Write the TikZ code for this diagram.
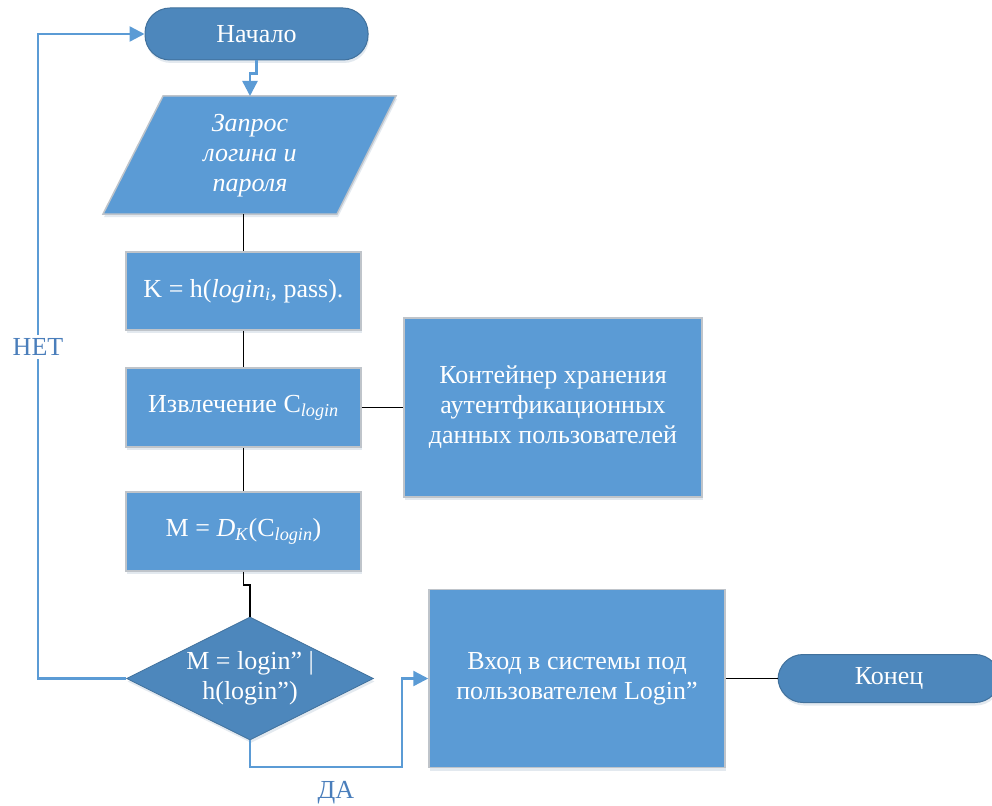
\documentclass[tikz,border=0pt]{standalone}
\usepackage{fontspec}
\setmainfont{Liberation Serif}
\usetikzlibrary{arrows.meta,shapes.geometric,shadows}
\definecolor{boxfill}{HTML}{5B9BD5}
\definecolor{boxline}{HTML}{BFC4CA}
\definecolor{termfill}{HTML}{4D87BC}
\definecolor{termline}{HTML}{41719C}
\definecolor{flowblue}{HTML}{5B9BD5}
\definecolor{labelblue}{HTML}{4A7EBB}
\tikzset{
  x=1pt, y=-1pt,
  every node/.style={font=\fontsize{26}{30}\selectfont, text=white, align=center},
  softshadow/.style={drop shadow={shadow xshift=1pt, shadow yshift=-3pt, opacity=0.15, fill=flowblue!70!black}},
  procbox/.style={rectangle, fill=boxfill, draw=boxline, line width=1.5pt, inner sep=0pt, softshadow},
  terminal/.style={rectangle, rounded corners=25pt, fill=termfill, draw=termline, line width=1pt, inner sep=0pt, softshadow},
  decision/.style={diamond, fill=termfill, draw=termline, line width=0.8pt, inner sep=0pt, softshadow},
  plainline/.style={draw=black, line width=1.8pt},
  flowline/.style={draw=flowblue, line width=2.4pt},
  flowarrow/.style={flowline, -{Triangle[length=15pt,width=15pt]}},
  branchlabel/.style={text=labelblue, fill=white, inner sep=3pt},
}
\begin{document}
\begin{tikzpicture}
\useasboundingbox (0,0) rectangle (992,805);
\clip (0,0) rectangle (992,805);

% start / end terminals
\node[terminal, minimum width=223pt, minimum height=52pt] (start) at (256.5,34) {Начало};
\node[terminal, minimum width=222pt, minimum height=48pt] (finish) at (889,678.5) {Конец};

% input parallelogram
\coordinate (inTL) at (163,96);
\coordinate (inTR) at (396,96);
\coordinate (inBR) at (337,214);
\coordinate (inBL) at (103,214);
\fill[flowblue!70!black, opacity=0.15] ([shift={(1,3)}]inTL) -- ([shift={(1,3)}]inTR) -- ([shift={(1,3)}]inBR) -- ([shift={(1,3)}]inBL) -- cycle;
\draw[fill=boxfill, draw=boxline, line width=1.5pt] (inTL) -- (inTR) -- (inBR) -- (inBL) -- cycle;
\node (input) at (250,156) {\itshape Запрос\\\itshape логина и\\\itshape пароля};
\coordinate (intop) at (250,96);
\coordinate (inbot) at (243.5,214);

% process boxes
\node[procbox, minimum width=235pt, minimum height=78pt] (key) at (243.5,291)
  {K = h(\textit{login}\textsubscript{\textit{i}}, pass).};
\node[procbox, minimum width=235pt, minimum height=79pt] (fetch) at (243.5,407.5)
  {Извлечение C\textsubscript{\textit{login}}};
\node[procbox, minimum width=235pt, minimum height=79pt] (decrypt) at (243.5,531.5)
  {M = \textit{D}\textsubscript{\textit{K}}(C\textsubscript{\textit{login}})};
\node[procbox, minimum width=298pt, minimum height=179pt] (store) at (553,407.5)
  {Контейнер хранения\\аутентфикационных\\данных пользователей};
\node[procbox, minimum width=296pt, minimum height=178pt] (enter) at (577,678.5)
  {Вход в системы под\\пользователем Login”};

% decision
\node[decision, minimum width=247pt, minimum height=123pt] (check) at (250,678.5) {};
\node at (check) {M = login” |\\h(login”)};

% connectors
\draw[flowarrow] (start.south) -- ++(0,13) -| (intop);
\draw[plainline] (inbot) -- (key.north);
\draw[plainline] (key.south) -- (fetch.north);
\draw[plainline] (fetch.east) -- (store.west);
\draw[plainline] (fetch.south) -- (decrypt.north);
\draw[plainline] (decrypt.south) -- ++(0,13) -| (check.north);
\draw[plainline] (enter.east) -- (finish.west);

% branches
\draw[flowarrow] (check.west) -| (38,34) -- (start.west);
\node[branchlabel] (no) at (38,347) {НЕТ};
\draw[flowarrow] (check.south) |- (402,767) |- (enter.west);
\node[text=labelblue] (yes) at (336,793) {ДА};
\end{tikzpicture}
\end{document}
